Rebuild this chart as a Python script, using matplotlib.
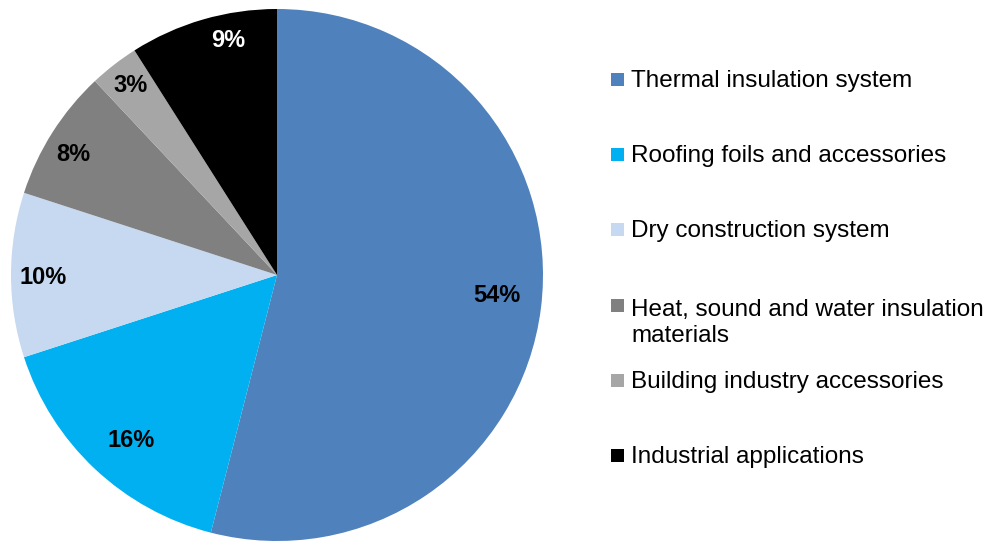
import numpy as np
import matplotlib.pyplot as plt
from matplotlib.patches import Rectangle

plt.rcParams['font.family'] = ['Liberation Sans', 'DejaVu Sans']

labels = ["Thermal insulation system", "Roofing foils and accessories",
          "Dry construction system", "Heat, sound and water insulation\nmaterials",
          "Building industry accessories", "Industrial applications"]
shares = [54, 16, 10, 8, 3, 9]
colors = ["#4F81BD", "#00B0F0", "#C6D9F1", "#808080", "#A6A6A6", "#000000"]

# where the percentage labels sit (angle in degrees, radius as fraction)
label_angle = [-5.2, -131.3, 180.7, 149.5, 127.7, 101.8]
label_radius = [0.83, 0.83, 0.88, 0.89, 0.90, 0.90]

W, H = 997, 542
fig = plt.figure(figsize=(W / 100, H / 100), dpi=100)

# pie centre (277, 275) px from top-left, radius 266 px
cx, cy, r = 277, 275, 266
ax = fig.add_axes([(cx - r) / W, (H - cy - r) / H, 2 * r / W, 2 * r / H])
wedges, texts, autotexts = ax.pie(shares, colors=colors, startangle=90, counterclock=False,
                                  autopct=lambda p: f"{round(p)}%", pctdistance=0.86,
                                  wedgeprops=dict(linewidth=0),
                                  textprops=dict(fontsize=17, fontweight='bold', color='black'))
for t, a, rr in zip(autotexts, label_angle, label_radius):
    t.set_position((rr * np.cos(np.radians(a)), rr * np.sin(np.radians(a))))
autotexts[-1].set_color('white')
ax.set_xlim(-1, 1)
ax.set_ylim(-1, 1)
ax.set_aspect('equal')
ax.axis('off')

# legend drawn by hand, entries every ~75 px
fs = 17.5
line_px = fs * 100 / 72 * 1.2
for i, (lab, col) in enumerate(zip(labels, colors)):
    base = 86.7 + i * 75.3
    fig.patches.append(Rectangle((611 / W, (H - base + 1) / H), 13 / W, 13 / H,
                                 transform=fig.transFigure, color=col, lw=0))
    extra = lab.count("\n") * line_px
    fig.text(631 / W, (H - base - extra) / H, lab, fontsize=fs, va='baseline', ha='left',
             color='black', linespacing=1.2)

fig.savefig("out.png", dpi=100)
